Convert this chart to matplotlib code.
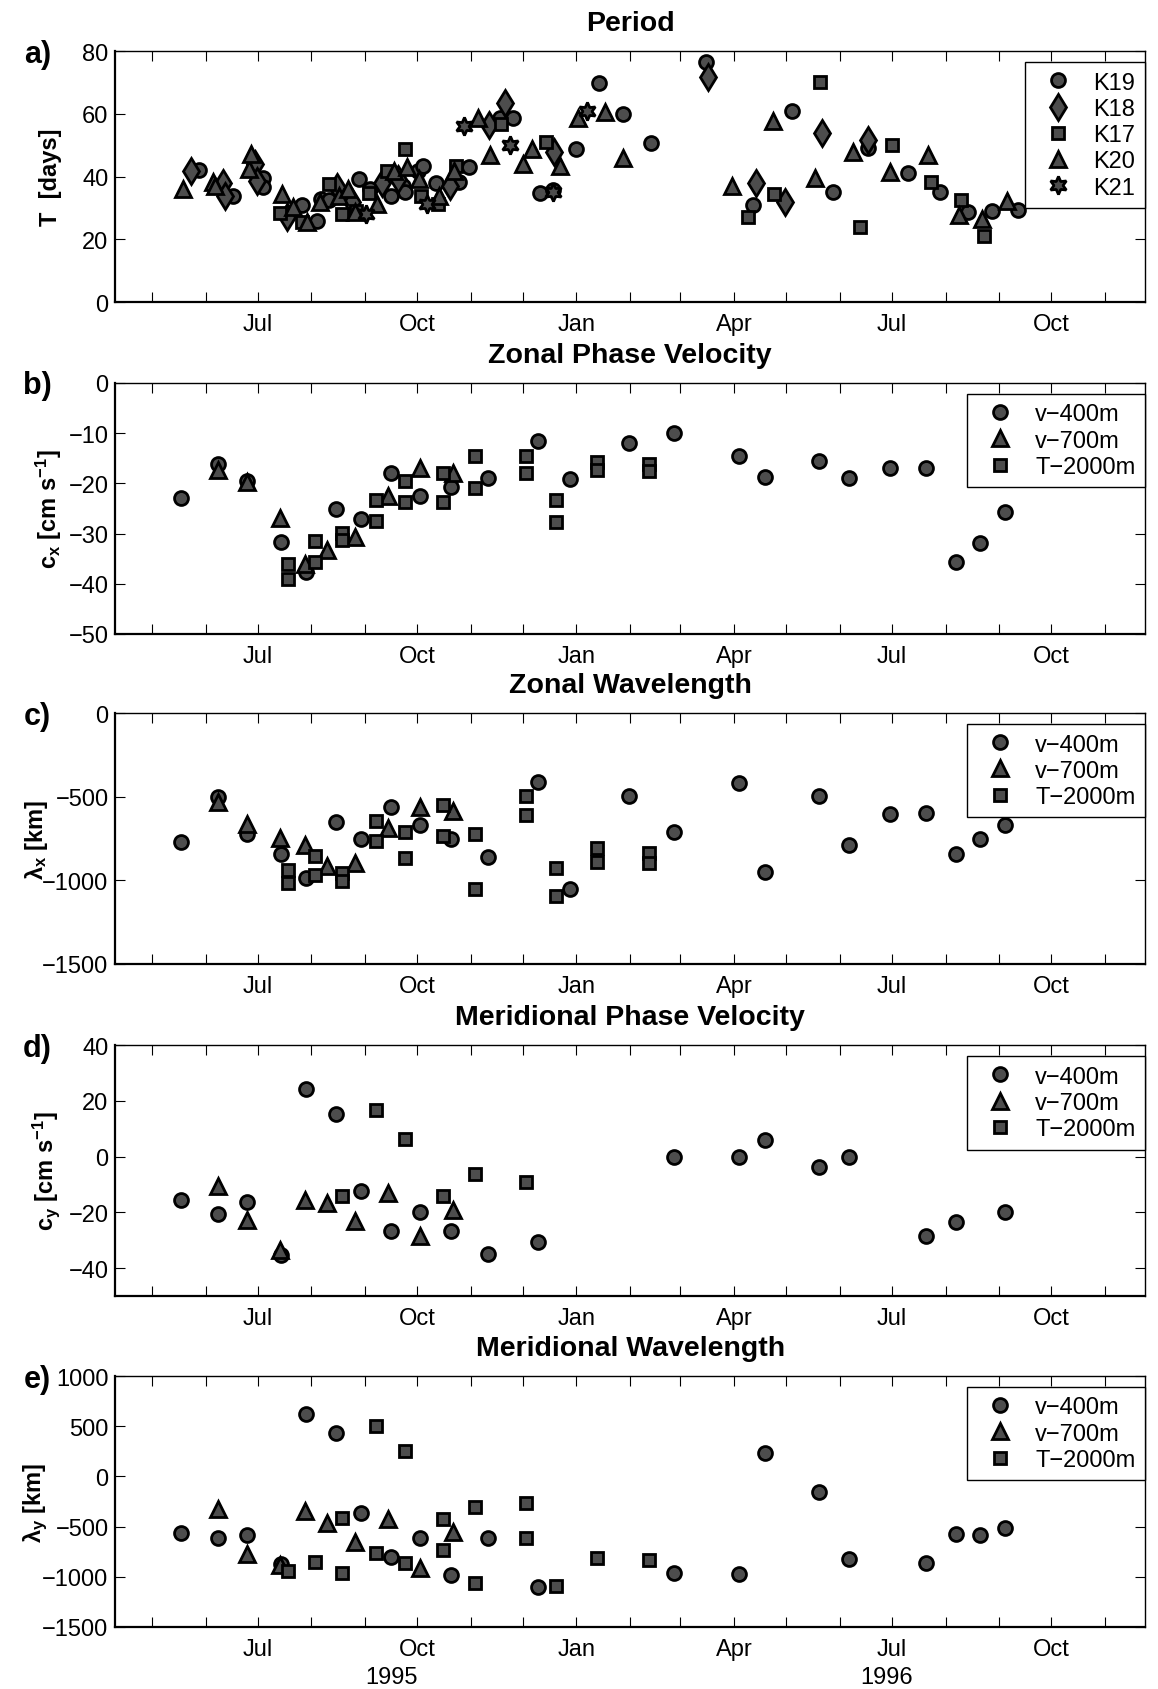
import numpy as np
import pandas as pd
import matplotlib
matplotlib.use('Agg')
import matplotlib.pyplot as plt
import matplotlib.dates as mdates
from matplotlib.ticker import FuncFormatter, MultipleLocator

plt.rcParams['font.family'] = ['Liberation Sans', 'DejaVu Sans']
plt.rcParams['mathtext.fontset'] = 'custom'
plt.rcParams['mathtext.rm'] = 'Liberation Sans'
plt.rcParams['mathtext.bf'] = 'Liberation Sans:bold'
plt.rcParams['mathtext.it'] = 'Liberation Sans:italic'
plt.rcParams['mathtext.default'] = 'bf'

# dias contados desde el 1 de enero de 1995

# a) periodo por mooring
k19_dias = [147.2, 167, 184.3, 184.3, 206.5, 215.4, 217.8, 222.4, 239.4, 246,
            258, 265.2, 266.2, 273.4, 276.5, 283.7, 297.1, 303.2, 320.7, 328.4,
            344, 351.6, 364.6, 378, 391.7, 407.8, 439.6, 466.7, 489.1, 513.2,
            533.4, 556.5, 575, 591, 604.9, 619.8]
k19_T = [42.1, 33.9, 39.5, 36.8, 30.9, 25.9, 32.9, 32.5, 39.3, 36.1,
         33.9, 37.1, 35.0, 41.9, 43.5, 38.0, 38.2, 43.0, 58.5, 58.7,
         34.8, 35.7, 48.9, 69.7, 59.8, 50.7, 76.6, 31.0, 60.9, 35.0,
         49.2, 41.1, 35.2, 28.6, 28.9, 29.3]

k18_dias = [142.7, 161.2, 162.3, 179.8, 180.8, 197.9, 227.1, 235.3, 252.8, 262.1,
            292, 314.6, 323.8, 352.2, 441.1, 468.4, 485.5, 506.8, 533.4]
k18_T = [41.7, 38.0, 33.9, 44.0, 38.7, 27.0, 36.6, 31.8, 37.9, 39.3,
         37.1, 56.3, 63.3, 47.8, 71.6, 37.9, 32.0, 53.9, 51.5]

k17_dias = [194.2, 206.5, 222.4, 229.6, 237.8, 245.2, 255.9, 265.8, 275.5, 285.3,
            295.6, 321.4, 347.5, 464.1, 479.1, 505.3, 528.8, 546.9, 569.3, 586.7, 600]
k17_T = [28.4, 25.6, 37.7, 28.1, 29.1, 34.8, 41.9, 48.9, 33.9, 31.3,
         43.5, 56.9, 51.0, 27.2, 34.5, 70.2, 23.8, 50.1, 38.2, 32.5, 20.9]

k20_dias = [138.2, 155.1, 156.7, 176.1, 177.3, 195.2, 201.4, 209.6, 217.2, 228.1,
            232.9, 237.4, 249.7, 260, 267.2, 274.4, 285.8, 294.6, 308.4, 315.2,
            334.1, 339.3, 355.7, 366, 381.5, 391.7, 455, 478.4, 502.5, 524.3,
            545.8, 567.6, 585.7, 598.9, 613.4]
k20_T = [36.0, 38.4, 37.1, 42.5, 47.3, 34.5, 30.2, 25.6, 31.8, 33.9,
         36.1, 28.6, 31.3, 41.9, 43.0, 39.3, 33.9, 41.9, 58.8, 46.9,
         44.1, 48.9, 43.5, 58.8, 60.6, 45.9, 36.9, 57.6, 39.5, 47.8,
         41.6, 47.0, 27.7, 26.5, 32.3]

k21_dias = [243.6, 278.5, 300.2, 326.9, 351.6, 371.2]
k21_T = [28.1, 31.3, 56.1, 49.9, 35.2, 60.8]

# b)-e) estimaciones por instrumento
v400_dias = [137, 158, 175, 194.5, 209, 226, 240.5, 258, 275, 292.5, 314, 343,
             361, 395.5, 421, 459, 474, 505, 522, 546, 566.5, 584, 598, 612]
v700_dias = [158, 175, 194, 208.5, 221, 237.5, 256, 274.5, 293.5]
t2000_dias = [198.5, 214, 230, 249.5, 266, 288, 306.5, 336, 353, 377, 407]

nan = np.nan

cx_v400 = [-23.0, -16.2, -19.5, -31.7, -37.7, -25.2, -27.2, -17.9, -22.5, -20.7, -19.0, -11.5,
           -19.1, -11.9, -10.0, -14.5, -18.8, -15.5, -19.0, -17.0, -17.0, -35.7, -31.9, -25.7]
cx_v700 = [-17.3, -19.7, -27.0, -36.1, -33.2, -30.7, -22.5, -17.0, -18.0]
cx_t2000_1 = [-36.1, -31.5, -29.9, -23.3, -19.5, -18.0, -14.5, -14.5, -23.3, -15.7, -16.2]
cx_t2000_2 = [-39.0, -35.7, -31.2, -27.5, -23.7, -23.8, -21.0, -18.0, -27.7, -17.3, -17.5]

lx_v400 = [-768, -504, -724, -844, -984, -654, -750, -564, -668, -750, -860, -410,
           -1054, -494, -714, -420, -950, -498, -788, -604, -598, -844, -754, -670]
lx_v700 = [-530, -664, -744, -788, -914, -898, -690, -564, -584]
lx_t2000_1 = [-940, -854, -958, -648, -714, -550, -724, -494, -924, -808, -838]
lx_t2000_2 = [-1014, -970, -1004, -764, -864, -734, -1054, -608, -1094, -888, -894]

cy_v400 = [-15.7, -20.4, -16.3, -35.4, 24.3, 15.4, -12.2, -26.7, -19.9, -26.7, -34.9, -30.7,
           nan, nan, 0.0, 0.0, 5.9, -3.8, 0.0, nan, -28.5, -23.5, nan, -19.9]
cy_v700 = [-10.6, -22.6, -33.3, -15.6, -16.6, -22.9, -13.0, -28.5, -19.3]
cy_t2000_1 = [nan, nan, -14.2, 16.7, 6.5, -14.0, -6.1, -9.0, nan, nan, nan]
cy_t2000_2 = [nan] * 11

ly_v400 = [-567, -610, -583, -877, 623, 430, -367, -800, -610, -983, -610, -1103,
           nan, nan, -960, -977, 233, -153, -820, nan, -867, -577, -587, -510]
ly_v700 = [-327, -770, -887, -343, -460, -653, -420, -910, -553]
ly_t2000_1 = [-943, -853, -410, 507, 250, -427, -300, -267, -1093, -817, -837]
ly_t2000_2 = [nan, nan, -960, -767, -867, -733, -1060, -610, nan, nan, nan]

anios = ['1995', '1996']
anios_dias = [258, 544]

dia0 = pd.Timestamp('1995-01-01')


def fecha(d):
    return dia0 + pd.to_timedelta(np.asarray(d, dtype=float), unit='D')


gris = '#4d4d4d'
base = dict(linestyle='none', mfc=gris, mec='k', mew=2.0)
circulo = dict(marker='o', ms=10, **base)
diamante = dict(marker='d', ms=13, **base)
cuadro = dict(marker='s', ms=8.5, **base)
triangulo = dict(marker='^', ms=11, **base)
hexagrama = dict(marker=(6, 1, 0), ms=13, **base)

fig = plt.figure(figsize=(11.58, 16.90), dpi=100)

izq, ancho, alto = 0.0997, 0.889, 0.1485
fondos = [0.8207, 0.6243, 0.4290, 0.2325, 0.0367]
axs = [fig.add_axes([izq, b, ancho, alto]) for b in fondos]

x0 = pd.Timestamp('1995-04-10')
x1 = pd.Timestamp('1996-11-24')


def mes(x, pos):
    d = mdates.num2date(x)
    return d.strftime('%b') if d.month in (1, 4, 7, 10) else ''


def ejes(ax, titulo, letra, ylim, paso, ylab, ylab_x):
    ax.set_xlim(x0, x1)
    ax.set_ylim(*ylim)
    ax.yaxis.set_major_locator(MultipleLocator(paso))
    ax.xaxis.set_major_locator(mdates.MonthLocator())
    ax.xaxis.set_major_formatter(FuncFormatter(mes))
    ax.tick_params(direction='in', length=7, width=0.8, top=True, right=True,
                   labelsize=17)
    ax.tick_params(axis='x', pad=8)
    ax.tick_params(axis='y', pad=5)
    for lado in ['left', 'bottom']:
        ax.spines[lado].set_linewidth(1.6)
    for lado in ['top', 'right']:
        ax.spines[lado].set_linewidth(1.0)
    ax.set_title(titulo, fontsize=20.5, fontweight='bold', pad=15)
    ax.text(-0.076, 0.99, letra, transform=ax.transAxes, fontsize=22,
            fontweight='bold', ha='center', va='center')
    ax.set_ylabel(ylab, fontsize=17, fontweight='bold')
    ax.yaxis.set_label_coords(ylab_x, 0.5)


def leyenda(ax):
    ax.legend(loc='upper right', bbox_to_anchor=(1.0, 0.956), borderaxespad=0,
              fontsize=17, frameon=True, fancybox=False, framealpha=1,
              edgecolor='k', borderpad=0.4, handlelength=2.0,
              handletextpad=0.5, labelspacing=0.18, numpoints=1)
    ax.get_legend().get_frame().set_linewidth(1.0)


# a) Period
ax = axs[0]
ax.plot(fecha(k19_dias), k19_T, label='K19', **circulo)
ax.plot(fecha(k18_dias), k18_T, label='K18', **diamante)
ax.plot(fecha(k17_dias), k17_T, label='K17', **cuadro)
ax.plot(fecha(k20_dias), k20_T, label='K20', **triangulo)
ax.plot(fecha(k21_dias), k21_T, label='K21', **hexagrama)
ejes(ax, 'Period', 'a)', (0, 80), 20, 'T  [days]', -0.052)
leyenda(ax)

paneles = [
    ('Zonal Phase Velocity', 'b)', (-50, 0), 10, 'c$_x$ [cm s$^{-1}$]', -0.050,
     cx_v400, cx_v700, cx_t2000_1, cx_t2000_2),
    ('Zonal Wavelength', 'c)', (-1500, 0), 500, 'λ$_x$ [km]', -0.064,
     lx_v400, lx_v700, lx_t2000_1, lx_t2000_2),
    ('Meridional Phase Velocity', 'd)', (-50, 40), 20, 'c$_y$ [cm s$^{-1}$]', -0.052,
     cy_v400, cy_v700, cy_t2000_1, cy_t2000_2),
    ('Meridional Wavelength', 'e)', (-1500, 1000), 500, 'λ$_y$ [km]', -0.064,
     ly_v400, ly_v700, ly_t2000_1, ly_t2000_2),
]

for ax, (tit, let, lim, paso, ylab, lx, v400, v700, t1, t2) in zip(axs[1:], paneles):
    ax.plot(fecha(v400_dias), v400, label='v\u2212400m', **circulo)
    ax.plot(fecha(v700_dias), v700, label='v\u2212700m', **triangulo)
    ax.plot(fecha(t2000_dias), t1, label='T\u22122000m', **cuadro)
    ax.plot(fecha(t2000_dias), t2, **cuadro)
    ejes(ax, tit, let, lim, paso, ylab, lx)
    leyenda(ax)

# anios bajo el ultimo panel
ax = axs[-1]
trans = matplotlib.transforms.blended_transform_factory(ax.transData, ax.transAxes)
for txt, d in zip(anios, anios_dias):
    ax.text(fecha([d])[0], -0.2, txt, transform=trans, fontsize=17,
            ha='center', va='center')

fig.savefig('out.png', dpi=100)
